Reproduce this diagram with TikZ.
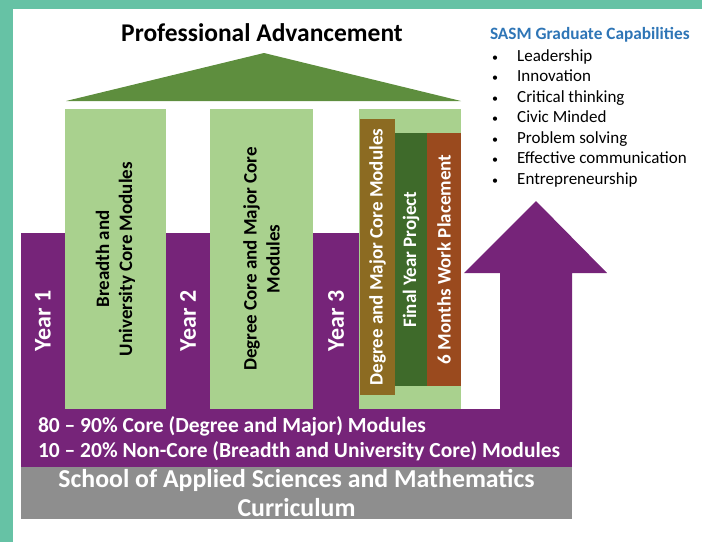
\documentclass[tikz,border=0pt]{standalone}
\usepackage{fontspec}
\setmainfont{Carlito}
\usetikzlibrary{positioning}

\definecolor{frame}{HTML}{66C2A5}
\definecolor{yearpurple}{HTML}{762479}
\definecolor{modgreen}{HTML}{A9D18E}
\definecolor{roofgreen}{HTML}{5E8E3E}
\definecolor{corebrown}{HTML}{8C6B22}
\definecolor{projgreen}{HTML}{3E6A2A}
\definecolor{placerust}{HTML}{9A4A1E}
\definecolor{basegray}{HTML}{8E8E8E}
\definecolor{sasmblue}{HTML}{2E75B6}

\newcommand{\capbullet}{\makebox[25pt][l]{\fontsize{12}{12}\selectfont\textbullet}}

\begin{document}
\begin{tikzpicture}[x=1pt, y=-1pt,
	box/.style={inner sep=0pt, outer sep=0pt, align=center},
	pillar/.style={box, rotate=90, fill=modgreen, minimum width=300pt, font=\bfseries\fontsize{19}{23}\selectfont},
	year/.style={box, rotate=90, fill=yearpurple, text=white, minimum width=176pt, font=\bfseries\fontsize{24}{28}\selectfont},
	bar/.style={box, rotate=90, text=white, font=\bfseries\fontsize{19}{23}\selectfont},
	item/.style={anchor=west, inner sep=0pt, text height=12pt, text depth=4pt, font=\fontsize{17}{20}\selectfont}]

	\useasboundingbox (0,0) rectangle (702,542);
	\fill[frame] (0,0) rectangle (702,9);
	\fill[frame] (0,0) rectangle (13,542);

	\node[box, font=\bfseries\fontsize{25.5}{30}\selectfont] (title) at (262,33) {Professional Advancement};
	\fill[roofgreen] (66,101) -- (264,53) -- (461,101) -- cycle;

	\fill[yearpurple] (500,410) |- (464,273) -- (536,201) -- (607,273) -| (572,410) -- cycle;
	\node[box, fill=yearpurple, minimum width=551pt, minimum height=58pt, anchor=north west] (band) at (21,409) {};
	\node[box, fill=basegray, text=white, minimum width=551pt, minimum height=52pt, anchor=north west,
		font=\bfseries\fontsize{25.8}{29}\selectfont] (school) at (21,467) {School of Applied Sciences and Mathematics\\Curriculum};
	\node[box, anchor=west, text=white, align=left, font=\bfseries\fontsize{21.5}{25}\selectfont] (share)
		at (38,438.5) {80 -- 90\% Core (Degree and Major) Modules\\10 -- 20\% Non-Core (Breadth and University Core) Modules};

	\node[year, minimum height=44pt] (y1) at (43,321) {Year 1};
	\node[year, minimum height=44pt] (y2) at (188,321) {Year 2};
	\node[year, minimum height=46pt] (y3) at (336,321) {Year 3};

	\node[pillar, minimum height=101pt] (p1) at (115.5,259) {Breadth and\\University Core Modules};
	\node[pillar, minimum height=103pt] (p2) at (261.5,259) {Degree Core and Major Core\\Modules};
	\node[pillar, minimum height=102pt] (p3) at (410,259) {};

	\node[bar, fill=corebrown, minimum width=276pt, minimum height=35pt] (core) at (377.5,257) {Degree and Major Core Modules};
	\node[bar, fill=projgreen, minimum width=253pt, minimum height=32pt] (proj) at (411,259.5) {Final Year Project};
	\node[bar, fill=placerust, minimum width=253pt, minimum height=34pt] (place) at (444,259.5) {6 Months Work Placement};

	\node[box, anchor=west, text=sasmblue, font=\bfseries\fontsize{17.3}{20}\selectfont] (caps) at (490,35) {SASM Graduate Capabilities};
	\node[item] (lead) at (492,57) {\capbullet Leadership};
	\node[item, below=20.5pt of lead.west, anchor=west] (innov) {\capbullet Innovation};
	\node[item, below=20.5pt of innov.west, anchor=west] (crit) {\capbullet Critical thinking};
	\node[item, below=20.5pt of crit.west, anchor=west] (civic) {\capbullet Civic Minded};
	\node[item, below=20.5pt of civic.west, anchor=west] (prob) {\capbullet Problem solving};
	\node[item, below=20.5pt of prob.west, anchor=west] (comm) {\capbullet Effective communication};
	\node[item, below=20.5pt of comm.west, anchor=west] (entre) {\capbullet Entrepreneurship};
\end{tikzpicture}
\end{document}
